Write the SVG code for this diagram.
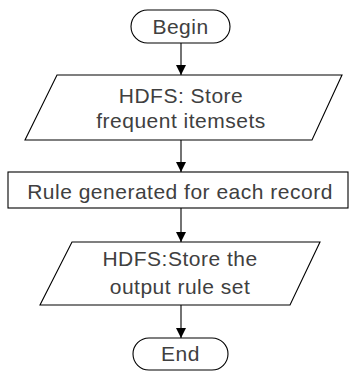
<svg xmlns="http://www.w3.org/2000/svg" width="350" height="373" viewBox="0 0 350 373">
<style>
.s{fill:#fff;stroke:#000;stroke-width:1.1}
.t{font-family:"Liberation Sans",Arial,sans-serif;font-size:21px;letter-spacing:0.5px;fill:#404040;text-anchor:middle}
.c{stroke:#000;stroke-width:1.1;fill:none}
</style>
<defs><marker id="a" viewBox="0 0 10 10" refX="10" refY="5" markerWidth="10" markerHeight="10" markerUnits="userSpaceOnUse" orient="auto"><path d="M0,0L10,5L0,10z" fill="#000"/></marker></defs>
<rect width="350" height="373" fill="#fff"/>
<g id="connectors">
<path class="c" d="M181,43V75" marker-end="url(#a)"/>
<path class="c" d="M181,140V172" marker-end="url(#a)"/>
<path class="c" d="M181,208V242" marker-end="url(#a)"/>
<path class="c" d="M181,305V338" marker-end="url(#a)"/>
</g>
<g id="begin"><rect class="s" x="131" y="10" width="99" height="33" rx="16.5"/><text class="t" x="180.5" y="34">Begin</text></g>
<g id="store1"><path class="s" d="M57,75H342L312,140H25Z"/><text class="t" x="181" y="103">HDFS: Store</text><text class="t" x="181" y="128">frequent itemsets</text></g>
<g id="rule"><rect class="s" x="8" y="172" width="340" height="36"/><text class="t" x="180" y="199">Rule generated for each record</text></g>
<g id="store2"><path class="s" d="M72,242H320L290,305H40Z"/><text class="t" x="180" y="266">HDFS:Store the</text><text class="t" x="180" y="294">output rule set</text></g>
<g id="end"><rect class="s" x="133" y="338" width="95" height="32" rx="16"/><text class="t" x="180.5" y="361">End</text></g>
</svg>
